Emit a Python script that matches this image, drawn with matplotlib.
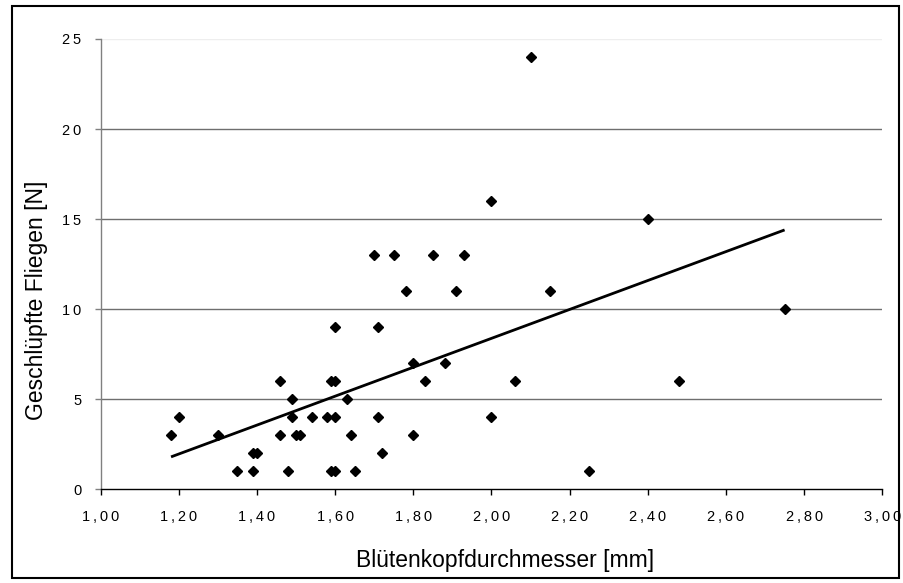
import matplotlib
matplotlib.use("Agg")
import matplotlib.pyplot as plt
from matplotlib.patches import Rectangle
from matplotlib import font_manager

# ---- data ----
x_vals = [1.18, 1.20, 1.30, 1.35, 1.39, 1.39, 1.40, 1.46, 1.46, 1.48,
          1.49, 1.49, 1.50, 1.51, 1.54, 1.58, 1.59, 1.60, 1.60, 1.60,
          1.59, 1.60, 1.63, 1.64, 1.65, 1.70, 1.71, 1.71, 1.72, 1.75,
          1.78, 1.80, 1.80, 1.83, 1.85, 1.88, 1.91, 1.93, 2.00, 2.00,
          2.06, 2.10, 2.15, 2.25, 2.40, 2.48, 2.75]
y_vals = [3, 4, 3, 1, 1, 2, 2, 3, 6, 1,
          5, 4, 3, 3, 4, 4, 6, 6, 9, 4,
          1, 1, 5, 3, 1, 13, 9, 4, 2, 13,
          11, 7, 3, 6, 13, 7, 11, 13, 16, 4,
          6, 24, 11, 1, 15, 6, 10]
trend_x = [1.18, 2.75]
trend_y = [1.8, 14.4]

x_ticks = [1.0, 1.2, 1.4, 1.6, 1.8, 2.0, 2.2, 2.4, 2.6, 2.8, 3.0]
x_ticklabels = ["1,00", "1,20", "1,40", "1,60", "1,80", "2,00",
                "2,20", "2,40", "2,60", "2,80", "3,00"]
y_ticks = [0, 5, 10, 15, 20, 25]
y_ticklabels = ["0", "5", "10", "15", "20", "25"]

x_label = "Blütenkopfdurchmesser [mm]"
y_label = "Geschlüpfte Fliegen [N]"

# ---- fonts ----
avail = {f.name for f in font_manager.fontManager.ttflist}
tick_font = "Liberation Sans Narrow" if "Liberation Sans Narrow" in avail else "Liberation Sans"
label_font = "Liberation Sans"

def spaced(s):
    return "\u2009".join(list(s))

W, H = 904, 583
fig = plt.figure(figsize=(W / 100, H / 100), dpi=100)
fig.patch.set_facecolor("white")

left, right, bottom, top = 100.7, 882.3, 489.3, 39.0
ax = fig.add_axes([left / W, (H - bottom) / H, (right - left) / W, (bottom - top) / H])

ax.set_xlim(1.0, 3.0)
ax.set_ylim(0, 25)

# gridlines
for yv in y_ticks[1:]:
    col = "#eeeeee" if yv == 25 else "#6e6e6e"
    ax.axhline(yv, color=col, lw=1.0, zorder=1)

ax.plot(x_vals, y_vals, linestyle="none", marker="D", markersize=4.8,
        color="black", zorder=3, clip_on=False)
ax.plot(trend_x, trend_y, color="black", lw=2.0, zorder=2,
        solid_capstyle="butt")

for s in ["top", "right"]:
    ax.spines[s].set_visible(False)
ax.spines["left"].set_color("#808080")
ax.spines["left"].set_linewidth(1.0)
ax.spines["bottom"].set_color("black")
ax.spines["bottom"].set_linewidth(1.0)

ax.set_xticks(x_ticks)
ax.set_xticklabels([spaced(t) for t in x_ticklabels],
                   fontfamily=[tick_font, "DejaVu Sans"], fontsize=10.5)
ax.set_yticks(y_ticks)
ax.set_yticklabels([spaced(t) for t in y_ticklabels],
                   fontfamily=[tick_font, "DejaVu Sans"], fontsize=10.5)
ax.tick_params(axis="x", direction="out", length=4, width=1, color="black", pad=11)
ax.tick_params(axis="y", direction="out", length=4, width=1, color="#808080", pad=10)

fig.text(505 / W, (H - 560) / H, x_label, fontfamily=label_font, fontsize=16.5,
         ha="center", va="center")
fig.text(37 / W, (H - 300) / H, y_label, fontfamily=label_font, fontsize=16.5,
         ha="center", va="center", rotation=90)

# outer frame
fig.patches.append(Rectangle((12 / W, (H - 578) / H), (899 - 12) / W, (578 - 6) / H,
                             transform=fig.transFigure, fill=False,
                             edgecolor="black", lw=1.5))

fig.savefig("out.png", dpi=100, facecolor="white")
